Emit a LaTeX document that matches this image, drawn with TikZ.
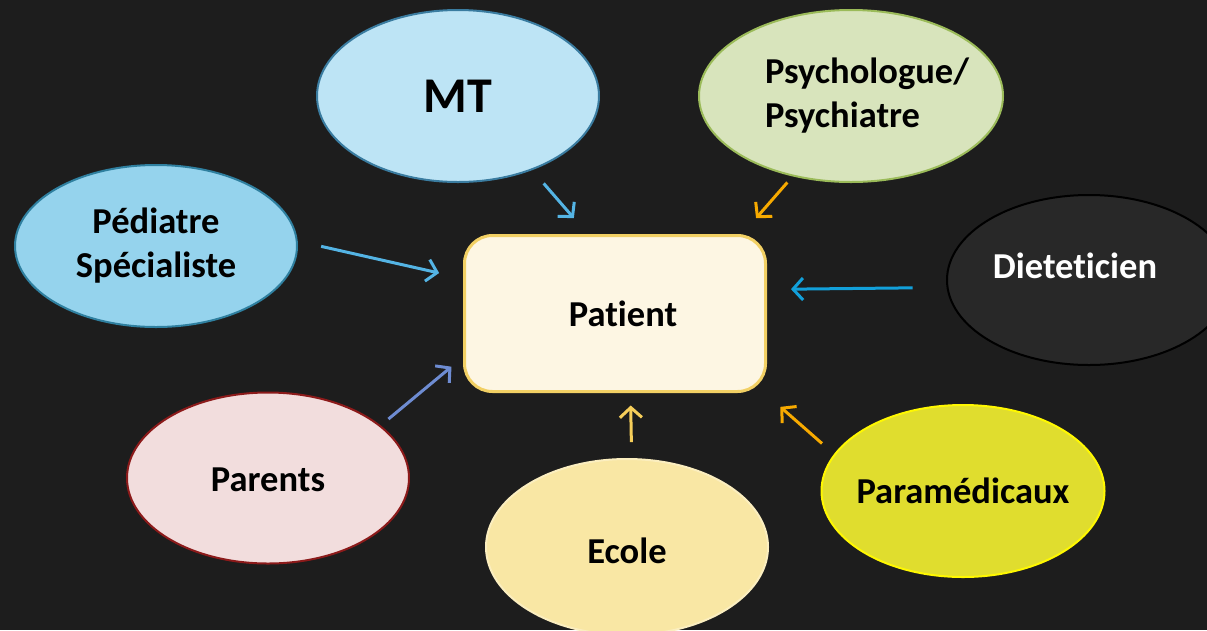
\documentclass[tikz,border=0pt]{standalone}
\usepackage{fontspec}
\setmainfont{Carlito}[Ligatures=NoCommon]
\usetikzlibrary{shapes.geometric, arrows.meta}
\definecolor{boardgray}{RGB}{29,29,29}
\definecolor{mtblue}{RGB}{189,228,245}
\definecolor{mtedge}{RGB}{58,124,160}
\definecolor{pedblue}{RGB}{149,211,237}
\definecolor{pededge}{RGB}{47,128,160}
\definecolor{psyfill}{RGB}{216,228,188}
\definecolor{psyedge}{RGB}{155,187,89}
\definecolor{dietfill}{RGB}{40,40,40}
\definecolor{parfill}{RGB}{242,221,221}
\definecolor{paredge}{RGB}{140,26,26}
\definecolor{ecolefill}{RGB}{249,231,164}
\definecolor{parafill}{RGB}{224,221,46}
\definecolor{paraedge}{RGB}{255,248,0}
\definecolor{patfill}{RGB}{253,246,227}
\definecolor{patedge}{RGB}{242,208,100}
\definecolor{arrowblue}{RGB}{84,180,228}
\definecolor{arrowcyan}{RGB}{18,160,218}
\definecolor{arroworange}{RGB}{247,170,0}
\definecolor{arrowviolet}{RGB}{110,140,210}
\definecolor{arrowsand}{RGB}{246,206,90}

\begin{document}
\begin{tikzpicture}[x=1pt, y=-1pt,
    member/.style={ellipse, draw, line width=2pt, minimum width=282pt, minimum height=172pt, inner sep=0pt},
    word/.style={font=\fontsize{36.5}{44}\selectfont\bfseries, align=center, inner sep=0pt},
    link/.style={line width=3pt, -{Straight Barb[length=10pt, width=22pt]}}]
        \useasboundingbox (0,0) rectangle (1207,630);
        \clip (0,0) rectangle (1207,630);
        \fill[boardgray] (0,0) rectangle (1207,630);

        % the people round the patient
        \node[member, fill=mtblue, draw=mtedge, label={[word, font=\fontsize{50}{60}\selectfont\bfseries]center:MT}] (mt) at (458,96) {};
        \node[member, fill=psyfill, draw=psyedge, minimum width=304pt, label={[word, align=left, xshift=16pt]center:{Psychologue/\\Psychiatre}}] (psy) at (851,96) {};
        \node[member, fill=pedblue, draw=pededge, minimum height=162pt, label={[word]center:{Pédiatre\\Spécialiste}}] (ped) at (156,246) {};
        \node[member, fill=dietfill, draw=black, minimum width=284pt, minimum height=170pt, label={[word, white, xshift=-14pt, yshift=14pt]center:Dieteticien}] (diet) at (1089,280) {};
        \node[member, fill=parfill, draw=paredge, minimum height=171pt, label={[word, yshift=-2pt]center:Parents}] (parents) at (268,478) {};
        \node[member, fill=ecolefill, draw=ecolefill!70!white, minimum height=176pt, label={[word, yshift=-4pt]center:Ecole}] (ecole) at (627,547) {};
        \node[member, fill=parafill, draw=paraedge, minimum width=283pt, label={[word]center:Paramédicaux}] (para) at (963,491) {};

        \node[rectangle, rounded corners=28pt, draw=patedge, line width=3pt, fill=patfill, minimum width=301pt, minimum height=156pt, label={[word, xshift=8pt]center:Patient}] (patient) at (615,313.5) {};

        % arrows, they stop short of the nodes
        \draw[link, arrowblue, shorten <=17.5pt, shorten >=21pt] (mt.-45) -- (patient.109);
        \draw[link, arroworange, shorten <=8pt, shorten >=21pt] (psy.-126) -- (patient.32);
        \draw[link, arrowblue, shorten <=24pt, shorten >=24.5pt] (ped.2) -- (patient.167);
        \draw[link, arrowcyan, shorten <=34pt, shorten >=24pt] (diet.-177) -- (patient.9.5);
        \draw[link, arrowviolet, shorten <=10pt, shorten >=15pt] (parents.25) -- (patient.-164);
        \draw[link, arrowsand, shorten <=16pt, shorten >=12.5pt] (ecole.87) -- (patient.-79);
        \draw[link, arroworange, shorten <=16pt, shorten >=21pt] (para.164) -- (patient.-28);
    \end{tikzpicture}
\end{document}
